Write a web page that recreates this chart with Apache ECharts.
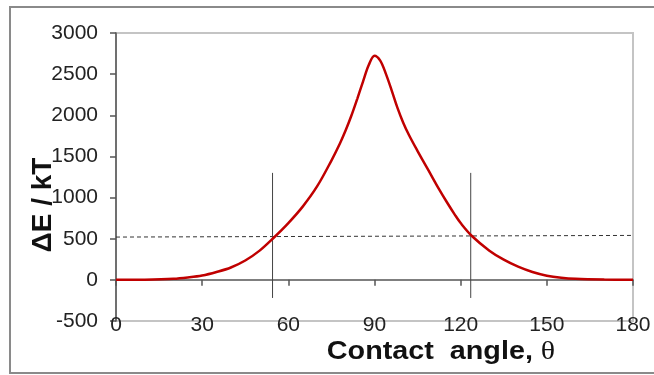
<!DOCTYPE html>
<html>
<head>
<meta charset="utf-8">
<script src="https://cdn.jsdelivr.net/npm/echarts@6/dist/echarts.min.js"></script>
<style>
  html, body { margin: 0; padding: 0; background: #fff; }
  #main { width: 654px; height: 375px; }
</style>
</head>
<body>
<div id="main"></div>
<script>
var chart = echarts.init(document.getElementById("main"));

// contact angle (deg) and energy barrier (kT)
var angles = [0, 10, 20, 25, 30, 35, 40, 45, 50, 55, 60, 65, 70, 75, 78, 80, 82, 84, 86, 88, 90,
  92, 94, 96, 98, 100, 102, 105, 108, 110, 112, 115, 118, 120, 124, 130, 135, 140, 145, 150, 155, 160, 170, 180];
var energy = [0, 2, 12, 28, 52, 95, 150, 235, 355, 515, 690, 890, 1135, 1450, 1660, 1820, 2000, 2200, 2410, 2610, 2725,
  2665, 2500, 2300, 2090, 1910, 1760, 1565, 1380, 1255, 1130, 955, 790, 690, 530, 355, 245, 160, 95, 50, 25, 12, 3, 0];

// dashed threshold line (two end points) and the two vertical markers
var thresholdX = [0, 180];
var thresholdY = [520, 540];
var markerX = [54.5, 123.5];
var markerY = [-220, 1300];

function pairs(xs, ys) {
  return xs.map(function (x, i) { return [x, ys[i]]; });
}

var series = [
  {
    type: "line",
    data: pairs(thresholdX, thresholdY),
    symbol: "none",
    lineStyle: { color: "#333", width: 1, type: [4, 3] },
    z: 2
  }
];

markerX.forEach(function (mx) {
  series.push({
    type: "line",
    data: pairs([mx, mx], markerY),
    symbol: "none",
    lineStyle: { color: "#444", width: 1 },
    z: 2
  });
});

series.push({
  type: "line",
  data: pairs(angles, energy),
  smooth: 0.35,
  symbol: "none",
  lineStyle: { color: "#c00000", width: 2.5 },
  z: 5
});

var option = {
  animation: false,
  grid: {
    left: 116, right: 21, top: 33, bottom: 54,
    show: true, borderColor: "#c4c4c4", borderWidth: 2
  },
  xAxis: [
    {
      type: "value",
      min: 0, max: 180, interval: 30,
      axisLine: { onZero: false, show: false },
      axisTick: { show: false },
      splitLine: { show: false },
      axisLabel: {
        margin: -6,
        fontSize: 21,
        fontFamily: "Liberation Sans",
        color: "#222",
        formatter: function (v) { return String(v); }
      }
    },
    {
      type: "value",
      position: "bottom",
      min: 0, max: 180, interval: 30,
      axisLine: { onZero: true, onZeroAxisIndex: 0, lineStyle: { color: "#555", width: 1.5 } },
      axisTick: { show: true, length: 6, lineStyle: { color: "#555", width: 1.5 } },
      axisLabel: { show: false },
      splitLine: { show: false }
    }
  ],
  yAxis: {
    type: "value",
    min: -500, max: 3000, interval: 500,
    axisLine: { show: true, onZero: false, lineStyle: { color: "#555", width: 1.5 } },
    axisTick: { show: true, length: 6, lineStyle: { color: "#555", width: 1.5 } },
    splitLine: { show: false },
    axisLabel: {
      margin: 18,
      fontSize: 21,
      fontFamily: "Liberation Sans",
      color: "#222",
      formatter: function (v) { return String(v); }
    }
  },
  graphic: [
    {
      type: "rect",
      shape: { x: 10, y: 7, width: 680, height: 366 },
      style: { fill: null, stroke: "#8a8a8a", lineWidth: 2 },
      silent: true,
      z: -10
    },
    {
      type: "text",
      x: 43, y: 205,
      rotation: Math.PI / 2,
      style: {
        text: "ΔE / kT",
        font: "bold 28px 'Liberation Sans'",
        fill: "#111",
        align: "center",
        verticalAlign: "middle"
      }
    },
    {
      type: "text",
      x: 441, y: 352,
      scaleX: 1.15,
      style: {
        text: "{a|Contact  angle, }{b|θ}",
        align: "center",
        verticalAlign: "middle",
        rich: {
          a: { font: "bold 25px 'Liberation Sans'", fill: "#111" },
          b: { font: "26px 'Liberation Serif'", fill: "#111" }
        }
      }
    }
  ],
  series: series
};

chart.setOption(option);
</script>
</body>
</html>
